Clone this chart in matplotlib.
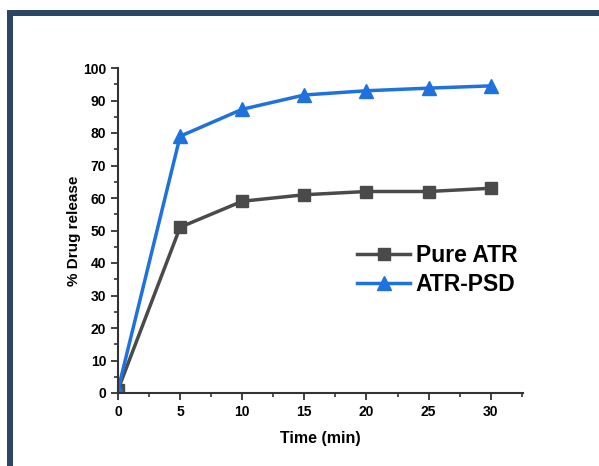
import matplotlib
matplotlib.use("Agg")
import matplotlib.pyplot as plt
from matplotlib.patches import Rectangle
from matplotlib.ticker import MultipleLocator

plt.rcParams['font.family'] = ['Liberation Sans', 'DejaVu Sans']

time = [0, 5, 10, 15, 20, 25, 30]
pure_atr = [1, 51, 59, 61, 62, 62, 63]
atr_psd = [1, 79, 87.3, 91.7, 93, 93.8, 94.5]

W, H = 599, 466
fig = plt.figure(figsize=(W/100, H/100), dpi=100)
fig.patch.set_facecolor('white')

# frame
fig.add_artist(Rectangle((7/W, 0), 6/W, 1 - 10/H, transform=fig.transFigure,
                         facecolor='#2c4766', edgecolor='none'))
fig.add_artist(Rectangle((7/W, 1 - 16/H), 1 - 7/W, 6/H, transform=fig.transFigure,
                         facecolor='#2c4766', edgecolor='none'))

ax = fig.add_axes([118/W, 1 - 393/H, (523-118)/W, (393-68)/H])
ax.plot(time, pure_atr, color='#4a4a4a', lw=2.5, marker='s', ms=8, label='Pure ATR')
ax.plot(time, atr_psd, color='#1f72de', lw=2.5, marker='^', ms=10, label='ATR-PSD')

ax.set_xlim(0, 32.6)
ax.set_ylim(0, 100)
ax.xaxis.set_major_locator(MultipleLocator(5))
ax.xaxis.set_minor_locator(MultipleLocator(2.5))
ax.yaxis.set_major_locator(MultipleLocator(10))
ax.yaxis.set_minor_locator(MultipleLocator(5))
for s in ['top', 'right']:
    ax.spines[s].set_visible(False)
for s in ['left', 'bottom']:
    ax.spines[s].set_linewidth(1.5)
    ax.spines[s].set_color('#333333')
ax.tick_params(which='major', length=5, width=1.3, labelsize=10, direction='out', color='#333333')
ax.tick_params(which='minor', length=3, width=1.2, direction='out', color='#333333')
for lab in ax.get_xticklabels() + ax.get_yticklabels():
    lab.set_fontweight('bold')
ax.set_xlabel('Time (min)', fontsize=11.5, fontweight='bold', labelpad=9)
ax.set_ylabel('% Drug release', fontsize=11, fontweight='bold', labelpad=1.5)

leg = ax.legend(loc='upper left', bbox_to_anchor=(0.54, 0.522), frameon=False,
                prop={'size': 16.5, 'weight': 'bold'}, handlelength=2.3,
                handletextpad=0.25, labelspacing=0.25)
fig.savefig('out.png', dpi=100)
